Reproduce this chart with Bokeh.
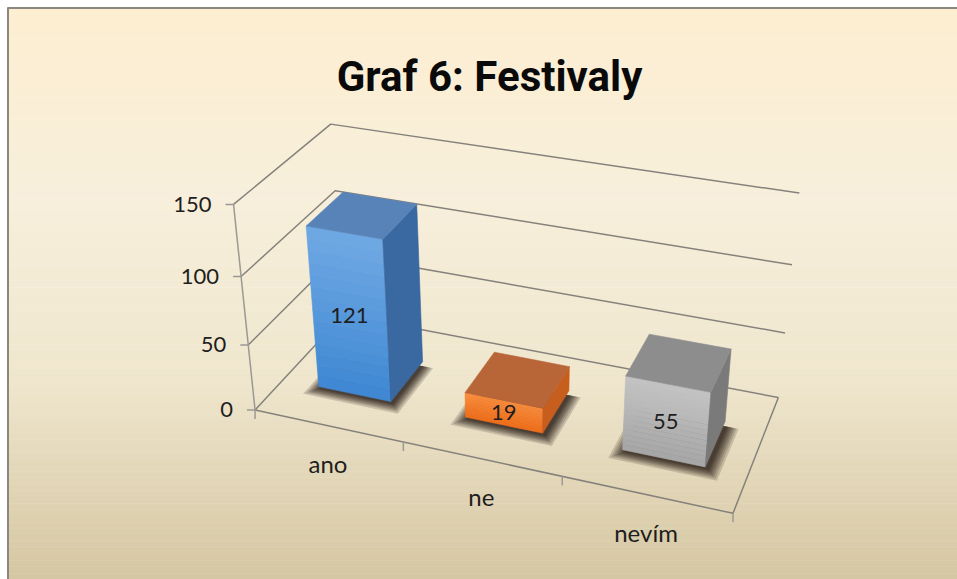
import numpy as np
from bokeh.plotting import figure
from bokeh.models import Range1d
from bokeh.core.properties import value
from bokeh.embed import file_html
from bokeh.resources import INLINE

# ---------------- data ----------------
title_text = "Graf 6: Festivaly"
categories = ["ano", "ne", "nevím"]
counts = [121, 19, 55]
y_ticks = [0, 50, 100, 150]
y_tick_labels = ["0", "50", "100", "150"]
y_max = 150

# ---------------- styles ----------------
front_top = ["#70a9e4", "#f98e3e", "#c3c3c3"]
front_bottom = ["#3e87d3", "#f26f1c", "#a6a6a6"]
top_col = ["#5783b9", "#b86538", "#8d8d8d"]
side_col = ["#3a68a0", "#c75e1e", "#7a7a7a"]
grid_color = "#85827c"
axis_color = "#9b9994"
text_color = "#1e1e1e"
FONT = value("Lato")
TITLE_FONT = value("Roboto")

W, H = 957, 579

# ------------- perspective camera (layout anchors: box corners on the page) -------------
# 3D box: X along categories [0, n], Yn = value / y_max in [0, 1], Z depth [0 front, 1 back]
anchors_3d = [(0, 0, 0), (0, 1, 0), (0, 2 / 3, 0), (0, 1 / 3, 0), (0, 1, 1),
              (3, 1, 1), (3, 2 / 3, 1), (3, 1 / 3, 1), (3, 0, 1), (3, 0, 0),
              (1, 0, 0), (2, 0, 0)]
anchors_px = [(255, 410), (233, 204), (241, 276), (247, 343), (330, 124),
              (799, 193), (792, 264), (784, 332), (778, 397), (732, 513),
              (403, 442), (562, 476)]

A, b = [], []
for (X, Y, Z), (u, v) in zip(anchors_3d, anchors_px):
    A.append([X, Y, Z, 1, 0, 0, 0, 0, -u * X, -u * Y, -u * Z]); b.append(u)
    A.append([0, 0, 0, 0, X, Y, Z, 1, -v * X, -v * Y, -v * Z]); b.append(v)
sol = np.linalg.lstsq(np.array(A, float), np.array(b, float), rcond=None)[0]
P = np.append(sol, 1.0).reshape(3, 4)


def proj(X, val, Z):
    h = P @ np.array([X, val / y_max, Z, 1.0])
    return float(h[0] / h[2]), float(h[1] / h[2])


def poly(pts):
    xy = [proj(*q) for q in pts]
    return [q[0] for q in xy], [q[1] for q in xy]


def mix(c1, c2, t):
    a = [int(c1[i:i + 2], 16) for i in (1, 3, 5)]
    b2 = [int(c2[i:i + 2], 16) for i in (1, 3, 5)]
    return "#%02x%02x%02x" % tuple(int(round(a[k] + (b2[k] - a[k]) * t)) for k in range(3))


n = len(categories)

p = figure(width=W, height=H, x_range=Range1d(0, W), y_range=Range1d(H, 0),
           output_backend="svg", toolbar_location=None, min_border=0,
           x_axis_type=None, y_axis_type=None)
p.grid.visible = False
p.outline_line_color = None
p.background_fill_color = "#ffffff"
p.border_fill_color = "#ffffff"

# background gradient (panel starts at 7 px)
PX0, PY0 = 7, 7
stops_y = [PY0, 200, 380, H]
stops_c = ["#fdeed1", "#f7efdb", "#efe6cd", "#d5c7a2"]
NS = 90
edges = np.linspace(PY0, H, NS + 1)
bg_cols = []
for i in range(NS):
    ym = 0.5 * (edges[i] + edges[i + 1])
    for k in range(len(stops_y) - 1):
        if stops_y[k] <= ym <= stops_y[k + 1]:
            t = (ym - stops_y[k]) / (stops_y[k + 1] - stops_y[k])
            bg_cols.append(mix(stops_c[k], stops_c[k + 1], t))
            break
p.quad(left=PX0, right=W, top=edges[:-1].tolist(), bottom=edges[1:].tolist(),
       fill_color=bg_cols, line_color=bg_cols, line_width=0.5)

# frame border (left and top)
p.segment(x0=[PX0 + 0.5, PX0], y0=[PY0, PY0 + 0.5], x1=[PX0 + 0.5, W], y1=[H, PY0 + 0.5],
          line_color="#8a877e", line_width=2)

# gridlines on the left wall and back wall
gx, gy = [], []
for t in y_ticks:
    xs, ys = poly([(0, t, 0), (0, t, 1), (n, t, 1)])
    gx.append(xs); gy.append(ys)
# floor front and right edges
xs, ys = poly([(0, 0, 0), (n, 0, 0), (n, 0, 1)])
gx.append(xs); gy.append(ys)
p.multi_line(xs=gx, ys=gy, line_color=grid_color, line_width=1.5)

# value axis line and ticks
ax_x, ax_y = poly([(0, 0, 0), (0, y_max, 0)])
p.line(ax_x, ax_y, line_color=axis_color, line_width=1.5)
tx0, ty0, tx1, ty1 = [], [], [], []
for t in y_ticks:
    u, v = proj(0, t, 0)
    tx0.append(u - 8); ty0.append(v); tx1.append(u); ty1.append(v)
for k in range(n + 1):
    u, v = proj(k, 0, 0)
    tx0.append(u); ty0.append(v); tx1.append(u); ty1.append(v + 9)
p.segment(x0=tx0, y0=ty0, x1=tx1, y1=ty1, line_color=axis_color, line_width=1.5)

# y tick labels
lx, ly = [], []
for t in y_ticks:
    u, v = proj(0, t, 0)
    lx.append(u - 22); ly.append(v)
p.text(x=lx, y=ly, text=y_tick_labels, text_font=FONT, text_font_size="22px",
       text_color=text_color, text_align="right", text_baseline="middle")

# category labels
cx, cy = [], []
for i in range(n):
    u, v = proj(i + 0.5, 0, 0)
    cx.append(u); cy.append(v + 38)
p.text(x=cx, y=cy, text=categories, text_font=FONT, text_font_size="24px",
       text_color=text_color, text_align="center", text_baseline="middle")

# bars
half_w = 0.25
z0, z1 = 0.3, 0.7

# soft shadows on the floor
sh_x, sh_y = [], []
for i in range(n):
    c = i + 0.5
    for e in [0.075, 0.062, 0.05, 0.04, 0.03, 0.021, 0.013, 0.006]:
        xs, ys = poly([(c - half_w - e + 0.02, 0, z0 - e - 0.012), (c + half_w + e + 0.02, 0, z0 - e - 0.012),
                       (c + half_w + e + 0.02, 0, z1 - 0.04), (c - half_w - e + 0.02, 0, z1 - 0.04)])
        sh_x.append(xs); sh_y.append(ys)
p.patches(xs=sh_x, ys=sh_y, fill_color="#1c1409", fill_alpha=0.17, line_color=None)

NB = 14
for i in range(n):
    c = i + 0.5
    x0, x1 = c - half_w, c + half_w
    h = counts[i]
    fx, fy, fc = [], [], []
    for k in range(NB):
        ya = h * (1 - k / NB)
        yb = h * (1 - (k + 1) / NB)
        xs, ys = poly([(x0, yb, z0), (x1, yb, z0), (x1, ya, z0), (x0, ya, z0)])
        fx.append(xs); fy.append(ys)
        fc.append(mix(front_top[i], front_bottom[i], (k + 0.5) / NB))
    p.patches(xs=fx, ys=fy, fill_color=fc, line_color=fc, line_width=0.6)
    xs, ys = poly([(x1, 0, z0), (x1, 0, z1), (x1, h, z1), (x1, h, z0)])
    p.patch(xs, ys, fill_color=side_col[i], line_color=side_col[i], line_width=0.6)
    xs, ys = poly([(x0, h, z0), (x1, h, z0), (x1, h, z1), (x0, h, z1)])
    p.patch(xs, ys, fill_color=top_col[i], line_color=top_col[i], line_width=0.6)

# data labels at front face centre
dx, dy = [], []
for i in range(n):
    u, v = proj(i + 0.5, counts[i] / 2, z0)
    dx.append(u); dy.append(v)
p.text(x=dx, y=dy, text=[str(v) for v in counts], text_font=FONT, text_font_size="22px",
       text_color=text_color, text_align="center", text_baseline="middle")

# title
p.text(x=[489], y=[76], text=[title_text], text_font=TITLE_FONT, text_font_size="42px",
       text_font_style="bold", text_color="#0a0a0a", text_align="center",
       text_baseline="alphabetic")

open("out.html", "w").write(file_html(p, INLINE))
